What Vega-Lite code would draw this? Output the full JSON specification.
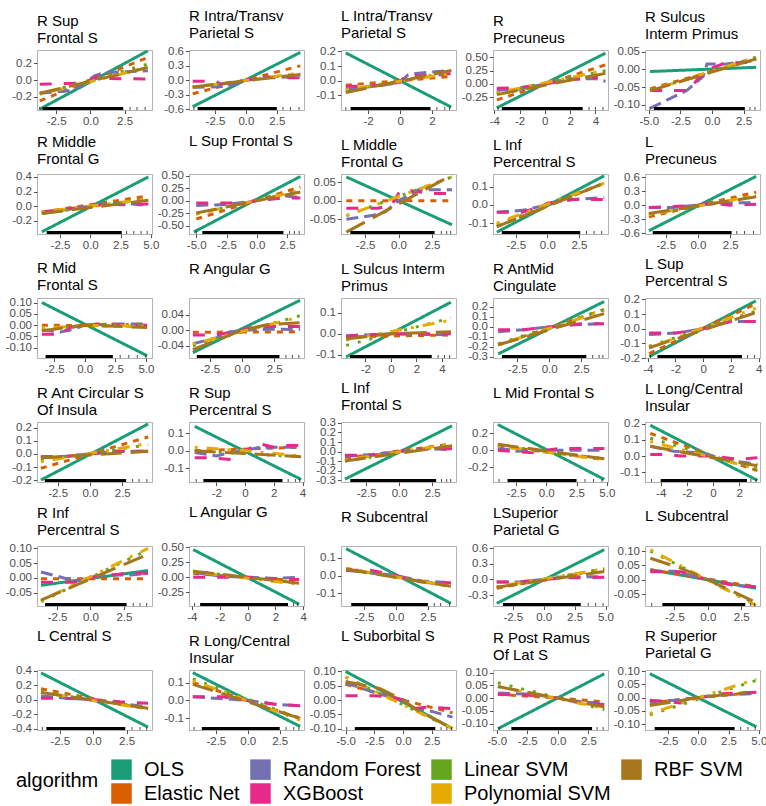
{
"$schema":"https://vega.github.io/schema/vega-lite/v6.json",
"padding":{"left":4,"top":8,"right":0,"bottom":0},
"columns":5,
"spacing":{"row":64,"column":37},
"bounds":"flush",
"resolve":{"scale":{"x":"independent","y":"independent","color":"shared","strokeDash":"shared"}},
"datasets":{
"lines":[
{"p":1,"a":"OLS","x":-3.7,"y":-0.35},{"p":1,"a":"OLS","x":4.2,"y":0.35},
{"p":1,"a":"Elastic Net","x":-3.7,"y":-0.25},{"p":1,"a":"Elastic Net","x":4.2,"y":0.27},
{"p":1,"a":"Random Forest","x":-3.7,"y":-0.16},{"p":1,"a":"Random Forest","x":-1.5,"y":-0.13},{"p":1,"a":"Random Forest","x":-0.5,"y":-0.05},{"p":1,"a":"Random Forest","x":0.3,"y":0.05},{"p":1,"a":"Random Forest","x":1,"y":0.09},{"p":1,"a":"Random Forest","x":4.2,"y":0.11},
{"p":1,"a":"XGBoost","x":-3.7,"y":-0.05},{"p":1,"a":"XGBoost","x":-1.2,"y":-0.04},{"p":1,"a":"XGBoost","x":0,"y":0},{"p":1,"a":"XGBoost","x":0.7,"y":0.06},{"p":1,"a":"XGBoost","x":1.2,"y":0.02},{"p":1,"a":"XGBoost","x":4.2,"y":0.01},
{"p":1,"a":"Linear SVM","x":-3.7,"y":-0.17},{"p":1,"a":"Linear SVM","x":4.2,"y":0.19},
{"p":1,"a":"Polynomial SVM","x":-3.7,"y":-0.17},{"p":1,"a":"Polynomial SVM","x":4.2,"y":0.15},
{"p":1,"a":"RBF SVM","x":-3.7,"y":-0.16},{"p":1,"a":"RBF SVM","x":4.2,"y":0.15},

{"p":2,"a":"OLS","x":-4.3,"y":-0.55},{"p":2,"a":"OLS","x":4.4,"y":0.58},
{"p":2,"a":"Elastic Net","x":-4.3,"y":-0.28},{"p":2,"a":"Elastic Net","x":4.4,"y":0.3},
{"p":2,"a":"Random Forest","x":-4.3,"y":-0.15},{"p":2,"a":"Random Forest","x":-1.5,"y":-0.13},{"p":2,"a":"Random Forest","x":0,"y":0},{"p":2,"a":"Random Forest","x":1.5,"y":0.05},{"p":2,"a":"Random Forest","x":4.4,"y":0.08},
{"p":2,"a":"XGBoost","x":-4.3,"y":-0.02},{"p":2,"a":"XGBoost","x":-2.5,"y":-0.02},{"p":2,"a":"XGBoost","x":-2,"y":-0.08},{"p":2,"a":"XGBoost","x":-1,"y":-0.05},{"p":2,"a":"XGBoost","x":0,"y":0},{"p":2,"a":"XGBoost","x":1.5,"y":0.08},{"p":2,"a":"XGBoost","x":2.5,"y":0.05},{"p":2,"a":"XGBoost","x":4.4,"y":0.05},
{"p":2,"a":"Linear SVM","x":-4.3,"y":-0.14},{"p":2,"a":"Linear SVM","x":4.4,"y":0.14},
{"p":2,"a":"Polynomial SVM","x":-4.3,"y":-0.15},{"p":2,"a":"Polynomial SVM","x":4.4,"y":0.15},
{"p":2,"a":"RBF SVM","x":-4.3,"y":-0.14},{"p":2,"a":"RBF SVM","x":4.4,"y":0.12},

{"p":3,"a":"OLS","x":-3.4,"y":0.19},{"p":3,"a":"OLS","x":3.2,"y":-0.18},
{"p":3,"a":"Elastic Net","x":-3.4,"y":-0.03},{"p":3,"a":"Elastic Net","x":3.2,"y":0.03},
{"p":3,"a":"Random Forest","x":-3.4,"y":-0.06},{"p":3,"a":"Random Forest","x":-1,"y":-0.03},{"p":3,"a":"Random Forest","x":0,"y":-0.01},{"p":3,"a":"Random Forest","x":0.5,"y":0.04},{"p":3,"a":"Random Forest","x":1,"y":0.05},{"p":3,"a":"Random Forest","x":3.2,"y":0.07},
{"p":3,"a":"XGBoost","x":-3.4,"y":-0.04},{"p":3,"a":"XGBoost","x":-1,"y":-0.03},{"p":3,"a":"XGBoost","x":0,"y":-0.01},{"p":3,"a":"XGBoost","x":0.3,"y":0.03},{"p":3,"a":"XGBoost","x":2.5,"y":0.04},{"p":3,"a":"XGBoost","x":3.2,"y":0.05},
{"p":3,"a":"Linear SVM","x":-3.4,"y":-0.07},{"p":3,"a":"Linear SVM","x":3.2,"y":0.06},
{"p":3,"a":"Polynomial SVM","x":-3.4,"y":-0.06},{"p":3,"a":"Polynomial SVM","x":3.2,"y":0.05},
{"p":3,"a":"RBF SVM","x":-3.4,"y":-0.08},{"p":3,"a":"RBF SVM","x":3.2,"y":0.07},

{"p":4,"a":"OLS","x":-3.8,"y":-0.45},{"p":4,"a":"OLS","x":4.8,"y":0.58},
{"p":4,"a":"Elastic Net","x":-3.8,"y":-0.3},{"p":4,"a":"Elastic Net","x":4.8,"y":0.36},
{"p":4,"a":"Random Forest","x":-3.8,"y":-0.12},{"p":4,"a":"Random Forest","x":-2,"y":-0.1},{"p":4,"a":"Random Forest","x":0,"y":0},{"p":4,"a":"Random Forest","x":2,"y":0.1},{"p":4,"a":"Random Forest","x":4,"y":0.1},{"p":4,"a":"Random Forest","x":4.8,"y":0.05},
{"p":4,"a":"XGBoost","x":-3.8,"y":-0.08},{"p":4,"a":"XGBoost","x":-2,"y":-0.07},{"p":4,"a":"XGBoost","x":0,"y":0},{"p":4,"a":"XGBoost","x":2,"y":0.08},{"p":4,"a":"XGBoost","x":4.2,"y":0.12},
{"p":4,"a":"Linear SVM","x":-3.8,"y":-0.17},{"p":4,"a":"Linear SVM","x":4.8,"y":0.25},
{"p":4,"a":"Polynomial SVM","x":-3.8,"y":-0.17},{"p":4,"a":"Polynomial SVM","x":4.8,"y":0.26},
{"p":4,"a":"RBF SVM","x":-3.8,"y":-0.2},{"p":4,"a":"RBF SVM","x":4.8,"y":0.2},

{"p":5,"a":"OLS","x":-4.9,"y":-0.006},{"p":5,"a":"OLS","x":3.5,"y":0.006},
{"p":5,"a":"Elastic Net","x":-4.9,"y":-0.055},{"p":5,"a":"Elastic Net","x":3.5,"y":0.03},
{"p":5,"a":"Random Forest","x":-4.9,"y":-0.11},{"p":5,"a":"Random Forest","x":-2,"y":-0.06},{"p":5,"a":"Random Forest","x":-0.7,"y":-0.02},{"p":5,"a":"Random Forest","x":-0.4,"y":0.015},{"p":5,"a":"Random Forest","x":1,"y":0.015},{"p":5,"a":"Random Forest","x":3.5,"y":0.025},
{"p":5,"a":"XGBoost","x":-4.9,"y":-0.06},{"p":5,"a":"XGBoost","x":-1.8,"y":-0.06},{"p":5,"a":"XGBoost","x":-1.2,"y":-0.03},{"p":5,"a":"XGBoost","x":-0.3,"y":0},{"p":5,"a":"XGBoost","x":1,"y":0.018},{"p":5,"a":"XGBoost","x":3.5,"y":0.02},
{"p":5,"a":"Linear SVM","x":-4.9,"y":-0.06},{"p":5,"a":"Linear SVM","x":3.5,"y":0.035},
{"p":5,"a":"Polynomial SVM","x":-4.9,"y":-0.06},{"p":5,"a":"Polynomial SVM","x":3.5,"y":0.035},
{"p":5,"a":"RBF SVM","x":-4.9,"y":-0.06},{"p":5,"a":"RBF SVM","x":3.5,"y":0.03},

{"p":6,"a":"OLS","x":-4,"y":-0.35},{"p":6,"a":"OLS","x":4.8,"y":0.4},
{"p":6,"a":"Elastic Net","x":-4,"y":-0.08},{"p":6,"a":"Elastic Net","x":4.8,"y":0.14},
{"p":6,"a":"Random Forest","x":-4,"y":-0.1},{"p":6,"a":"Random Forest","x":-1,"y":-0.02},{"p":6,"a":"Random Forest","x":0,"y":0},{"p":6,"a":"Random Forest","x":1,"y":0.03},{"p":6,"a":"Random Forest","x":2.5,"y":0.05},{"p":6,"a":"Random Forest","x":4,"y":0.02},{"p":6,"a":"Random Forest","x":4.8,"y":0.02},
{"p":6,"a":"XGBoost","x":-4,"y":-0.08},{"p":6,"a":"XGBoost","x":0,"y":0},{"p":6,"a":"XGBoost","x":1.5,"y":0.03},{"p":6,"a":"XGBoost","x":2.5,"y":0.02},{"p":6,"a":"XGBoost","x":4.8,"y":0.03},
{"p":6,"a":"Linear SVM","x":-4,"y":-0.1},{"p":6,"a":"Linear SVM","x":4.8,"y":0.1},
{"p":6,"a":"Polynomial SVM","x":-4,"y":-0.08},{"p":6,"a":"Polynomial SVM","x":4.8,"y":0.1},
{"p":6,"a":"RBF SVM","x":-4,"y":-0.1},{"p":6,"a":"RBF SVM","x":4.8,"y":0.08},

{"p":7,"a":"OLS","x":-5.2,"y":-0.63},{"p":7,"a":"OLS","x":3.6,"y":0.48},
{"p":7,"a":"Elastic Net","x":-5,"y":-0.37},{"p":7,"a":"Elastic Net","x":3.6,"y":0.27},
{"p":7,"a":"Random Forest","x":-5,"y":-0.1},{"p":7,"a":"Random Forest","x":-2.5,"y":-0.08},{"p":7,"a":"Random Forest","x":0,"y":0},{"p":7,"a":"Random Forest","x":2,"y":0.1},{"p":7,"a":"Random Forest","x":3.6,"y":0.06},
{"p":7,"a":"XGBoost","x":-5,"y":-0.05},{"p":7,"a":"XGBoost","x":-1,"y":-0.05},{"p":7,"a":"XGBoost","x":0,"y":0},{"p":7,"a":"XGBoost","x":1,"y":0.02},{"p":7,"a":"XGBoost","x":2,"y":0.05},{"p":7,"a":"XGBoost","x":3.6,"y":0.05},
{"p":7,"a":"Linear SVM","x":-5,"y":-0.27},{"p":7,"a":"Linear SVM","x":3.6,"y":0.2},
{"p":7,"a":"Polynomial SVM","x":-5,"y":-0.27},{"p":7,"a":"Polynomial SVM","x":3.6,"y":0.2},
{"p":7,"a":"RBF SVM","x":-5,"y":-0.25},{"p":7,"a":"RBF SVM","x":3.6,"y":0.17},

{"p":8,"a":"OLS","x":-3.9,"y":0.065},{"p":8,"a":"OLS","x":4,"y":-0.065},
{"p":8,"a":"Elastic Net","x":-3.9,"y":0},{"p":8,"a":"Elastic Net","x":4,"y":0},
{"p":8,"a":"Random Forest","x":-3.9,"y":-0.05},{"p":8,"a":"Random Forest","x":-2,"y":-0.04},{"p":8,"a":"Random Forest","x":-1,"y":-0.03},{"p":8,"a":"Random Forest","x":0,"y":0},{"p":8,"a":"Random Forest","x":0.5,"y":0.01},{"p":8,"a":"Random Forest","x":1.5,"y":0.03},{"p":8,"a":"Random Forest","x":4,"y":0.03},
{"p":8,"a":"XGBoost","x":-3.9,"y":-0.02},{"p":8,"a":"XGBoost","x":-1.5,"y":-0.02},{"p":8,"a":"XGBoost","x":-0.5,"y":-0.01},{"p":8,"a":"XGBoost","x":0,"y":0.02},{"p":8,"a":"XGBoost","x":0.3,"y":0.03},{"p":8,"a":"XGBoost","x":2.5,"y":0.02},{"p":8,"a":"XGBoost","x":4,"y":0.02},
{"p":8,"a":"Linear SVM","x":-3.9,"y":-0.04},{"p":8,"a":"Linear SVM","x":4,"y":0.065},
{"p":8,"a":"Polynomial SVM","x":-3.9,"y":-0.04},{"p":8,"a":"Polynomial SVM","x":4,"y":0.065},
{"p":8,"a":"RBF SVM","x":-3.9,"y":-0.085},{"p":8,"a":"RBF SVM","x":4,"y":0.07},

{"p":9,"a":"OLS","x":-4,"y":-0.15},{"p":9,"a":"OLS","x":4.5,"y":0.16},
{"p":9,"a":"Elastic Net","x":-4,"y":-0.12},{"p":9,"a":"Elastic Net","x":4.5,"y":0.12},
{"p":9,"a":"Random Forest","x":-4,"y":-0.04},{"p":9,"a":"Random Forest","x":-2,"y":-0.03},{"p":9,"a":"Random Forest","x":0,"y":0},{"p":9,"a":"Random Forest","x":1,"y":0.02},{"p":9,"a":"Random Forest","x":2,"y":0.03},{"p":9,"a":"Random Forest","x":4.5,"y":0.04},
{"p":9,"a":"XGBoost","x":-4,"y":-0.04},{"p":9,"a":"XGBoost","x":-2,"y":-0.04},{"p":9,"a":"XGBoost","x":-0.5,"y":-0.01},{"p":9,"a":"XGBoost","x":0,"y":0.01},{"p":9,"a":"XGBoost","x":2,"y":0.03},{"p":9,"a":"XGBoost","x":4.5,"y":0.03},
{"p":9,"a":"Linear SVM","x":-4,"y":-0.11},{"p":9,"a":"Linear SVM","x":4.5,"y":0.12},
{"p":9,"a":"Polynomial SVM","x":-4,"y":-0.1},{"p":9,"a":"Polynomial SVM","x":4.5,"y":0.12},
{"p":9,"a":"RBF SVM","x":-4,"y":-0.12},{"p":9,"a":"RBF SVM","x":4.5,"y":0.12},

{"p":10,"a":"OLS","x":-3.8,"y":-0.55},{"p":10,"a":"OLS","x":4.5,"y":0.62},
{"p":10,"a":"Elastic Net","x":-3.8,"y":-0.25},{"p":10,"a":"Elastic Net","x":4.5,"y":0.28},
{"p":10,"a":"Random Forest","x":-3.8,"y":-0.05},{"p":10,"a":"Random Forest","x":-2,"y":-0.05},{"p":10,"a":"Random Forest","x":0,"y":0},{"p":10,"a":"Random Forest","x":2,"y":0.05},{"p":10,"a":"Random Forest","x":4.5,"y":0.05},
{"p":10,"a":"XGBoost","x":-3.8,"y":-0.05},{"p":10,"a":"XGBoost","x":-1,"y":-0.02},{"p":10,"a":"XGBoost","x":0,"y":0},{"p":10,"a":"XGBoost","x":1,"y":0.05},{"p":10,"a":"XGBoost","x":2.5,"y":0},{"p":10,"a":"XGBoost","x":4.5,"y":0.02},
{"p":10,"a":"Linear SVM","x":-3.8,"y":-0.2},{"p":10,"a":"Linear SVM","x":4.5,"y":0.2},
{"p":10,"a":"Polynomial SVM","x":-3.8,"y":-0.2},{"p":10,"a":"Polynomial SVM","x":4.5,"y":0.2},
{"p":10,"a":"RBF SVM","x":-3.8,"y":-0.18},{"p":10,"a":"RBF SVM","x":4.5,"y":0.18},

{"p":11,"a":"OLS","x":-3.5,"y":0.1},{"p":11,"a":"OLS","x":5.1,"y":-0.135},
{"p":11,"a":"Elastic Net","x":-3.5,"y":0},{"p":11,"a":"Elastic Net","x":5.1,"y":-0.005},
{"p":11,"a":"Random Forest","x":-3.5,"y":-0.02},{"p":11,"a":"Random Forest","x":-2,"y":-0.03},{"p":11,"a":"Random Forest","x":-1,"y":-0.02},{"p":11,"a":"Random Forest","x":0,"y":0},{"p":11,"a":"Random Forest","x":2,"y":0.005},{"p":11,"a":"Random Forest","x":5.1,"y":0.005},
{"p":11,"a":"XGBoost","x":-3.5,"y":-0.04},{"p":11,"a":"XGBoost","x":-2,"y":-0.04},{"p":11,"a":"XGBoost","x":-1.2,"y":-0.01},{"p":11,"a":"XGBoost","x":0,"y":0},{"p":11,"a":"XGBoost","x":1,"y":0.005},{"p":11,"a":"XGBoost","x":5.1,"y":0},
{"p":11,"a":"Linear SVM","x":-3.5,"y":-0.02},{"p":11,"a":"Linear SVM","x":0,"y":0},{"p":11,"a":"Linear SVM","x":5.1,"y":0.005},
{"p":11,"a":"Polynomial SVM","x":-3.5,"y":-0.015},{"p":11,"a":"Polynomial SVM","x":0,"y":0},{"p":11,"a":"Polynomial SVM","x":5.1,"y":-0.005},
{"p":11,"a":"RBF SVM","x":-3.5,"y":-0.025},{"p":11,"a":"RBF SVM","x":0,"y":0},{"p":11,"a":"RBF SVM","x":2.5,"y":-0.005},{"p":11,"a":"RBF SVM","x":5.1,"y":-0.01},

{"p":12,"a":"OLS","x":-3.8,"y":-0.058},{"p":12,"a":"OLS","x":4.5,"y":0.078},
{"p":12,"a":"Elastic Net","x":-3.8,"y":-0.005},{"p":12,"a":"Elastic Net","x":4.5,"y":-0.004},
{"p":12,"a":"Random Forest","x":-3.8,"y":-0.035},{"p":12,"a":"Random Forest","x":-2,"y":-0.02},{"p":12,"a":"Random Forest","x":-1,"y":-0.005},{"p":12,"a":"Random Forest","x":0,"y":0},{"p":12,"a":"Random Forest","x":2,"y":0.003},{"p":12,"a":"Random Forest","x":4.5,"y":0.002},
{"p":12,"a":"XGBoost","x":-3.8,"y":-0.012},{"p":12,"a":"XGBoost","x":-2,"y":-0.012},{"p":12,"a":"XGBoost","x":0,"y":0},{"p":12,"a":"XGBoost","x":1,"y":0.01},{"p":12,"a":"XGBoost","x":3,"y":0.01},{"p":12,"a":"XGBoost","x":4.5,"y":0.01},
{"p":12,"a":"Linear SVM","x":-3.8,"y":-0.04},{"p":12,"a":"Linear SVM","x":4.5,"y":0.038},
{"p":12,"a":"Polynomial SVM","x":-3.8,"y":-0.035},{"p":12,"a":"Polynomial SVM","x":4.5,"y":0.035},
{"p":12,"a":"RBF SVM","x":-3.8,"y":-0.05},{"p":12,"a":"RBF SVM","x":0,"y":0},{"p":12,"a":"RBF SVM","x":2,"y":0.015},{"p":12,"a":"RBF SVM","x":4.5,"y":0.02},

{"p":13,"a":"OLS","x":-3.5,"y":-0.11},{"p":13,"a":"OLS","x":4.7,"y":0.15},
{"p":13,"a":"Elastic Net","x":-3.5,"y":-0.015},{"p":13,"a":"Elastic Net","x":4.7,"y":-0.005},
{"p":13,"a":"Random Forest","x":-3.5,"y":-0.01},{"p":13,"a":"Random Forest","x":0,"y":0},{"p":13,"a":"Random Forest","x":4.7,"y":-0.005},
{"p":13,"a":"XGBoost","x":-3.5,"y":-0.01},{"p":13,"a":"XGBoost","x":0,"y":0},{"p":13,"a":"XGBoost","x":2,"y":0},{"p":13,"a":"XGBoost","x":4.7,"y":0},
{"p":13,"a":"Linear SVM","x":-3.5,"y":-0.055},{"p":13,"a":"Linear SVM","x":4.7,"y":0.075},
{"p":13,"a":"Polynomial SVM","x":-3.5,"y":-0.03},{"p":13,"a":"Polynomial SVM","x":4.7,"y":0.065},
{"p":13,"a":"RBF SVM","x":-3.5,"y":-0.025},{"p":13,"a":"RBF SVM","x":0,"y":0},{"p":13,"a":"RBF SVM","x":4.7,"y":0.01},

{"p":14,"a":"OLS","x":-4,"y":-0.27},{"p":14,"a":"OLS","x":4.3,"y":0.25},
{"p":14,"a":"Elastic Net","x":-4,"y":-0.18},{"p":14,"a":"Elastic Net","x":4.3,"y":0.17},
{"p":14,"a":"Random Forest","x":-4,"y":-0.05},{"p":14,"a":"Random Forest","x":-2,"y":-0.03},{"p":14,"a":"Random Forest","x":0,"y":0},{"p":14,"a":"Random Forest","x":2,"y":0.02},{"p":14,"a":"Random Forest","x":4.3,"y":0.03},
{"p":14,"a":"XGBoost","x":-4,"y":-0.03},{"p":14,"a":"XGBoost","x":-2,"y":-0.03},{"p":14,"a":"XGBoost","x":0,"y":0},{"p":14,"a":"XGBoost","x":1,"y":0.01},{"p":14,"a":"XGBoost","x":2.5,"y":0.03},{"p":14,"a":"XGBoost","x":4.3,"y":0.03},
{"p":14,"a":"Linear SVM","x":-4,"y":-0.17},{"p":14,"a":"Linear SVM","x":4.3,"y":0.17},
{"p":14,"a":"Polynomial SVM","x":-4,"y":-0.18},{"p":14,"a":"Polynomial SVM","x":4.3,"y":0.16},
{"p":14,"a":"RBF SVM","x":-4,"y":-0.18},{"p":14,"a":"RBF SVM","x":4.3,"y":0.13},

{"p":15,"a":"OLS","x":-3.9,"y":-0.19},{"p":15,"a":"OLS","x":3.8,"y":0.19},
{"p":15,"a":"Elastic Net","x":-3.9,"y":-0.17},{"p":15,"a":"Elastic Net","x":3.8,"y":0.17},
{"p":15,"a":"Random Forest","x":-3.9,"y":-0.04},{"p":15,"a":"Random Forest","x":-2,"y":-0.03},{"p":15,"a":"Random Forest","x":0,"y":0},{"p":15,"a":"Random Forest","x":2,"y":0.05},{"p":15,"a":"Random Forest","x":3.8,"y":0.05},
{"p":15,"a":"XGBoost","x":-3.9,"y":-0.03},{"p":15,"a":"XGBoost","x":-2,"y":-0.03},{"p":15,"a":"XGBoost","x":0,"y":0},{"p":15,"a":"XGBoost","x":1,"y":0.03},{"p":15,"a":"XGBoost","x":2,"y":0.05},{"p":15,"a":"XGBoost","x":3.8,"y":0.05},
{"p":15,"a":"Linear SVM","x":-3.9,"y":-0.12},{"p":15,"a":"Linear SVM","x":3.8,"y":0.12},
{"p":15,"a":"Polynomial SVM","x":-3.9,"y":-0.13},{"p":15,"a":"Polynomial SVM","x":3.8,"y":0.14},
{"p":15,"a":"RBF SVM","x":-3.9,"y":-0.13},{"p":15,"a":"RBF SVM","x":3.8,"y":0.11},

{"p":16,"a":"OLS","x":-3.8,"y":-0.2},{"p":16,"a":"OLS","x":4.5,"y":0.23},
{"p":16,"a":"Elastic Net","x":-3.8,"y":-0.11},{"p":16,"a":"Elastic Net","x":4.5,"y":0.13},
{"p":16,"a":"Random Forest","x":-3.8,"y":-0.02},{"p":16,"a":"Random Forest","x":-2,"y":-0.02},{"p":16,"a":"Random Forest","x":0,"y":0},{"p":16,"a":"Random Forest","x":2,"y":0.02},{"p":16,"a":"Random Forest","x":4.5,"y":0.02},
{"p":16,"a":"XGBoost","x":-3.8,"y":-0.03},{"p":16,"a":"XGBoost","x":-2,"y":-0.02},{"p":16,"a":"XGBoost","x":0,"y":0},{"p":16,"a":"XGBoost","x":2,"y":0.02},{"p":16,"a":"XGBoost","x":4.5,"y":0.02},
{"p":16,"a":"Linear SVM","x":-3.8,"y":-0.05},{"p":16,"a":"Linear SVM","x":4.5,"y":0.07},
{"p":16,"a":"Polynomial SVM","x":-3.8,"y":-0.06},{"p":16,"a":"Polynomial SVM","x":4.5,"y":0.08},
{"p":16,"a":"RBF SVM","x":-3.8,"y":-0.03},{"p":16,"a":"RBF SVM","x":4.5,"y":0.02},

{"p":17,"a":"OLS","x":-3.5,"y":0.14},{"p":17,"a":"OLS","x":3.9,"y":-0.165},
{"p":17,"a":"Elastic Net","x":-3.5,"y":0},{"p":17,"a":"Elastic Net","x":3.9,"y":0.02},
{"p":17,"a":"Random Forest","x":-3.5,"y":-0.01},{"p":17,"a":"Random Forest","x":-2,"y":-0.03},{"p":17,"a":"Random Forest","x":-1,"y":-0.01},{"p":17,"a":"Random Forest","x":0,"y":0},{"p":17,"a":"Random Forest","x":1,"y":0.02},{"p":17,"a":"Random Forest","x":3.9,"y":0.02},
{"p":17,"a":"XGBoost","x":-3.5,"y":-0.04},{"p":17,"a":"XGBoost","x":-2.5,"y":-0.04},{"p":17,"a":"XGBoost","x":-1,"y":-0.05},{"p":17,"a":"XGBoost","x":0,"y":0},{"p":17,"a":"XGBoost","x":1,"y":0.04},{"p":17,"a":"XGBoost","x":2,"y":0.02},{"p":17,"a":"XGBoost","x":3,"y":0.03},{"p":17,"a":"XGBoost","x":3.9,"y":0.03},
{"p":17,"a":"Linear SVM","x":-3.5,"y":0},{"p":17,"a":"Linear SVM","x":3.9,"y":-0.035},
{"p":17,"a":"Polynomial SVM","x":-3.5,"y":0.02},{"p":17,"a":"Polynomial SVM","x":0,"y":0},{"p":17,"a":"Polynomial SVM","x":3.9,"y":-0.03},
{"p":17,"a":"RBF SVM","x":-3.5,"y":0},{"p":17,"a":"RBF SVM","x":3.9,"y":-0.035},

{"p":18,"a":"OLS","x":-4.1,"y":-0.29},{"p":18,"a":"OLS","x":4,"y":0.27},
{"p":18,"a":"Elastic Net","x":-4.1,"y":-0.07},{"p":18,"a":"Elastic Net","x":4,"y":0.08},
{"p":18,"a":"Random Forest","x":-4.1,"y":-0.05},{"p":18,"a":"Random Forest","x":-2,"y":-0.03},{"p":18,"a":"Random Forest","x":0,"y":0},{"p":18,"a":"Random Forest","x":2,"y":0.03},{"p":18,"a":"Random Forest","x":4,"y":0.02},
{"p":18,"a":"XGBoost","x":-4.1,"y":-0.04},{"p":18,"a":"XGBoost","x":-2,"y":-0.04},{"p":18,"a":"XGBoost","x":0,"y":0},{"p":18,"a":"XGBoost","x":1,"y":0.02},{"p":18,"a":"XGBoost","x":3,"y":0.03},{"p":18,"a":"XGBoost","x":4,"y":0.03},
{"p":18,"a":"Linear SVM","x":-4.1,"y":-0.1},{"p":18,"a":"Linear SVM","x":4,"y":0.07},
{"p":18,"a":"Polynomial SVM","x":-4.1,"y":-0.09},{"p":18,"a":"Polynomial SVM","x":4,"y":0.08},
{"p":18,"a":"RBF SVM","x":-4.1,"y":-0.1},{"p":18,"a":"RBF SVM","x":4,"y":0.06},

{"p":19,"a":"OLS","x":-4,"y":0.3},{"p":19,"a":"OLS","x":4.8,"y":-0.34},
{"p":19,"a":"Elastic Net","x":-4,"y":0.05},{"p":19,"a":"Elastic Net","x":4.8,"y":-0.1},
{"p":19,"a":"Random Forest","x":-4,"y":0.03},{"p":19,"a":"Random Forest","x":-2.5,"y":-0.01},{"p":19,"a":"Random Forest","x":0,"y":0},{"p":19,"a":"Random Forest","x":2,"y":0},{"p":19,"a":"Random Forest","x":4.8,"y":0},
{"p":19,"a":"XGBoost","x":-4,"y":0},{"p":19,"a":"XGBoost","x":-2,"y":-0.02},{"p":19,"a":"XGBoost","x":-1,"y":-0.03},{"p":19,"a":"XGBoost","x":0,"y":0},{"p":19,"a":"XGBoost","x":1,"y":0.02},{"p":19,"a":"XGBoost","x":4.8,"y":0.02},
{"p":19,"a":"Linear SVM","x":-4,"y":0.06},{"p":19,"a":"Linear SVM","x":4.8,"y":-0.11},
{"p":19,"a":"Polynomial SVM","x":-4,"y":0.05},{"p":19,"a":"Polynomial SVM","x":4.8,"y":-0.11},
{"p":19,"a":"RBF SVM","x":-4,"y":0.07},{"p":19,"a":"RBF SVM","x":4.8,"y":-0.1},

{"p":20,"a":"OLS","x":-4.8,"y":0.19},{"p":20,"a":"OLS","x":3.4,"y":-0.15},
{"p":20,"a":"Elastic Net","x":-4.8,"y":0.14},{"p":20,"a":"Elastic Net","x":0,"y":0},{"p":20,"a":"Elastic Net","x":3.4,"y":-0.09},
{"p":20,"a":"Random Forest","x":-4.8,"y":0.06},{"p":20,"a":"Random Forest","x":-3,"y":0.03},{"p":20,"a":"Random Forest","x":-1,"y":0.02},{"p":20,"a":"Random Forest","x":0,"y":0},{"p":20,"a":"Random Forest","x":1.5,"y":-0.03},{"p":20,"a":"Random Forest","x":3.4,"y":-0.05},
{"p":20,"a":"XGBoost","x":-4.8,"y":0.01},{"p":20,"a":"XGBoost","x":-3.5,"y":0.01},{"p":20,"a":"XGBoost","x":-2.5,"y":0},{"p":20,"a":"XGBoost","x":0,"y":0},{"p":20,"a":"XGBoost","x":2,"y":-0.02},{"p":20,"a":"XGBoost","x":3.4,"y":-0.01},
{"p":20,"a":"Linear SVM","x":-4.8,"y":0.11},{"p":20,"a":"Linear SVM","x":3.4,"y":-0.08},
{"p":20,"a":"Polynomial SVM","x":-4.8,"y":0.09},{"p":20,"a":"Polynomial SVM","x":3.4,"y":-0.08},
{"p":20,"a":"RBF SVM","x":-4.8,"y":0.06},{"p":20,"a":"RBF SVM","x":3.4,"y":-0.06},

{"p":21,"a":"OLS","x":-3.7,"y":-0.025},{"p":21,"a":"OLS","x":4.3,"y":0.025},
{"p":21,"a":"Elastic Net","x":-3.7,"y":-0.003},{"p":21,"a":"Elastic Net","x":4.3,"y":-0.003},
{"p":21,"a":"Random Forest","x":-3.7,"y":0.02},{"p":21,"a":"Random Forest","x":-2,"y":0},{"p":21,"a":"Random Forest","x":-1,"y":-0.01},{"p":21,"a":"Random Forest","x":0,"y":0},{"p":21,"a":"Random Forest","x":1,"y":0.01},{"p":21,"a":"Random Forest","x":3,"y":0.01},{"p":21,"a":"Random Forest","x":4.3,"y":0.015},
{"p":21,"a":"XGBoost","x":-3.7,"y":-0.015},{"p":21,"a":"XGBoost","x":-1.2,"y":-0.015},{"p":21,"a":"XGBoost","x":0,"y":0},{"p":21,"a":"XGBoost","x":0.5,"y":0.008},{"p":21,"a":"XGBoost","x":2,"y":0.012},{"p":21,"a":"XGBoost","x":3,"y":0.018},{"p":21,"a":"XGBoost","x":4.3,"y":0.015},
{"p":21,"a":"Linear SVM","x":-3.7,"y":-0.08},{"p":21,"a":"Linear SVM","x":4.3,"y":0.095},
{"p":21,"a":"Polynomial SVM","x":-3.7,"y":-0.078},{"p":21,"a":"Polynomial SVM","x":4.3,"y":0.1},
{"p":21,"a":"RBF SVM","x":-3.7,"y":-0.075},{"p":21,"a":"RBF SVM","x":4.3,"y":0.08},

{"p":22,"a":"OLS","x":-3.9,"y":0.46},{"p":22,"a":"OLS","x":3.7,"y":-0.45},
{"p":22,"a":"Elastic Net","x":-3.9,"y":0.06},{"p":22,"a":"Elastic Net","x":3.7,"y":-0.06},
{"p":22,"a":"Random Forest","x":-3.9,"y":0.08},{"p":22,"a":"Random Forest","x":-2,"y":0.02},{"p":22,"a":"Random Forest","x":0,"y":0},{"p":22,"a":"Random Forest","x":2,"y":-0.02},{"p":22,"a":"Random Forest","x":3.7,"y":0},
{"p":22,"a":"XGBoost","x":-3.9,"y":0},{"p":22,"a":"XGBoost","x":-2,"y":0},{"p":22,"a":"XGBoost","x":0,"y":0},{"p":22,"a":"XGBoost","x":2,"y":-0.03},{"p":22,"a":"XGBoost","x":3.7,"y":-0.04},
{"p":22,"a":"Linear SVM","x":-3.9,"y":0.1},{"p":22,"a":"Linear SVM","x":3.7,"y":-0.1},
{"p":22,"a":"Polynomial SVM","x":-3.9,"y":0.09},{"p":22,"a":"Polynomial SVM","x":3.7,"y":-0.12},
{"p":22,"a":"RBF SVM","x":-3.9,"y":0.1},{"p":22,"a":"RBF SVM","x":3.7,"y":-0.1},

{"p":23,"a":"OLS","x":-3.9,"y":0.15},{"p":23,"a":"OLS","x":4.3,"y":-0.155},
{"p":23,"a":"Elastic Net","x":-3.9,"y":0.04},{"p":23,"a":"Elastic Net","x":4.3,"y":-0.06},
{"p":23,"a":"Random Forest","x":-3.9,"y":0.03},{"p":23,"a":"Random Forest","x":0,"y":0},{"p":23,"a":"Random Forest","x":2,"y":-0.03},{"p":23,"a":"Random Forest","x":4.3,"y":-0.04},
{"p":23,"a":"XGBoost","x":-3.9,"y":0.03},{"p":23,"a":"XGBoost","x":-2,"y":0.03},{"p":23,"a":"XGBoost","x":0,"y":0},{"p":23,"a":"XGBoost","x":1.5,"y":-0.03},{"p":23,"a":"XGBoost","x":2.5,"y":-0.04},{"p":23,"a":"XGBoost","x":4.3,"y":-0.04},
{"p":23,"a":"Linear SVM","x":-3.9,"y":0.04},{"p":23,"a":"Linear SVM","x":4.3,"y":-0.06},
{"p":23,"a":"Polynomial SVM","x":-3.9,"y":0.04},{"p":23,"a":"Polynomial SVM","x":4.3,"y":-0.06},
{"p":23,"a":"RBF SVM","x":-3.9,"y":0.035},{"p":23,"a":"RBF SVM","x":4.3,"y":-0.06},

{"p":24,"a":"OLS","x":-3.8,"y":-0.46},{"p":24,"a":"OLS","x":4.9,"y":0.57},
{"p":24,"a":"Elastic Net","x":-3.8,"y":-0.17},{"p":24,"a":"Elastic Net","x":4.9,"y":0.2},
{"p":24,"a":"Random Forest","x":-3.8,"y":-0.05},{"p":24,"a":"Random Forest","x":-2,"y":-0.05},{"p":24,"a":"Random Forest","x":0,"y":0},{"p":24,"a":"Random Forest","x":2,"y":0.05},{"p":24,"a":"Random Forest","x":4.9,"y":0.05},
{"p":24,"a":"XGBoost","x":-3.8,"y":-0.05},{"p":24,"a":"XGBoost","x":-2,"y":-0.05},{"p":24,"a":"XGBoost","x":0,"y":0},{"p":24,"a":"XGBoost","x":2,"y":0.03},{"p":24,"a":"XGBoost","x":4.9,"y":0.04},
{"p":24,"a":"Linear SVM","x":-3.8,"y":-0.15},{"p":24,"a":"Linear SVM","x":4.9,"y":0.2},
{"p":24,"a":"Polynomial SVM","x":-3.8,"y":-0.14},{"p":24,"a":"Polynomial SVM","x":4.9,"y":0.2},
{"p":24,"a":"RBF SVM","x":-3.8,"y":-0.15},{"p":24,"a":"RBF SVM","x":4.9,"y":0.15},

{"p":25,"a":"OLS","x":-4.3,"y":0.035},{"p":25,"a":"OLS","x":3.6,"y":-0.03},
{"p":25,"a":"Elastic Net","x":-4.3,"y":0.035},{"p":25,"a":"Elastic Net","x":3.6,"y":-0.025},
{"p":25,"a":"Random Forest","x":-4.3,"y":0.03},{"p":25,"a":"Random Forest","x":-2.5,"y":0.03},{"p":25,"a":"Random Forest","x":0,"y":0},{"p":25,"a":"Random Forest","x":2,"y":-0.02},{"p":25,"a":"Random Forest","x":3.6,"y":-0.025},
{"p":25,"a":"XGBoost","x":-4.3,"y":0.028},{"p":25,"a":"XGBoost","x":-2,"y":0.028},{"p":25,"a":"XGBoost","x":0,"y":0},{"p":25,"a":"XGBoost","x":2,"y":-0.02},{"p":25,"a":"XGBoost","x":3.6,"y":-0.025},
{"p":25,"a":"Linear SVM","x":-4.3,"y":0.1},{"p":25,"a":"Linear SVM","x":3.6,"y":-0.085},
{"p":25,"a":"Polynomial SVM","x":-4.3,"y":0.105},{"p":25,"a":"Polynomial SVM","x":3.6,"y":-0.09},
{"p":25,"a":"RBF SVM","x":-4.3,"y":0.075},{"p":25,"a":"RBF SVM","x":-2,"y":0.04},{"p":25,"a":"RBF SVM","x":0,"y":0},{"p":25,"a":"RBF SVM","x":3.6,"y":-0.08},

{"p":26,"a":"OLS","x":-3.9,"y":0.37},{"p":26,"a":"OLS","x":4.1,"y":-0.38},
{"p":26,"a":"Elastic Net","x":-3.9,"y":0.15},{"p":26,"a":"Elastic Net","x":4.1,"y":-0.13},
{"p":26,"a":"Random Forest","x":-3.9,"y":0.05},{"p":26,"a":"Random Forest","x":-2,"y":0.02},{"p":26,"a":"Random Forest","x":0,"y":0},{"p":26,"a":"Random Forest","x":2,"y":-0.05},{"p":26,"a":"Random Forest","x":4.1,"y":-0.1},
{"p":26,"a":"XGBoost","x":-3.9,"y":0.02},{"p":26,"a":"XGBoost","x":-2,"y":0.02},{"p":26,"a":"XGBoost","x":0,"y":0},{"p":26,"a":"XGBoost","x":2,"y":-0.03},{"p":26,"a":"XGBoost","x":4.1,"y":-0.05},
{"p":26,"a":"Linear SVM","x":-3.9,"y":0.12},{"p":26,"a":"Linear SVM","x":4.1,"y":-0.12},
{"p":26,"a":"Polynomial SVM","x":-3.9,"y":0.1},{"p":26,"a":"Polynomial SVM","x":4.1,"y":-0.13},
{"p":26,"a":"RBF SVM","x":-3.9,"y":0.1},{"p":26,"a":"RBF SVM","x":4.1,"y":-0.12},

{"p":27,"a":"OLS","x":-4.3,"y":0.155},{"p":27,"a":"OLS","x":4.1,"y":-0.145},
{"p":27,"a":"Elastic Net","x":-4.3,"y":0.1},{"p":27,"a":"Elastic Net","x":4.1,"y":-0.1},
{"p":27,"a":"Random Forest","x":-4.3,"y":0.02},{"p":27,"a":"Random Forest","x":-2,"y":0.01},{"p":27,"a":"Random Forest","x":0,"y":0},{"p":27,"a":"Random Forest","x":2,"y":-0.02},{"p":27,"a":"Random Forest","x":4.1,"y":-0.03},
{"p":27,"a":"XGBoost","x":-4.3,"y":0.02},{"p":27,"a":"XGBoost","x":-2,"y":0.02},{"p":27,"a":"XGBoost","x":0,"y":0},{"p":27,"a":"XGBoost","x":2,"y":-0.02},{"p":27,"a":"XGBoost","x":4.1,"y":-0.03},
{"p":27,"a":"Linear SVM","x":-4.3,"y":0.12},{"p":27,"a":"Linear SVM","x":4.1,"y":-0.1},
{"p":27,"a":"Polynomial SVM","x":-4.3,"y":0.11},{"p":27,"a":"Polynomial SVM","x":4.1,"y":-0.11},
{"p":27,"a":"RBF SVM","x":-4.3,"y":0.09},{"p":27,"a":"RBF SVM","x":4.1,"y":-0.1},

{"p":28,"a":"OLS","x":-5,"y":0.1},{"p":28,"a":"OLS","x":4.3,"y":-0.1},
{"p":28,"a":"Elastic Net","x":-5,"y":0.055},{"p":28,"a":"Elastic Net","x":0,"y":0},{"p":28,"a":"Elastic Net","x":4.3,"y":-0.045},
{"p":28,"a":"Random Forest","x":-5,"y":0.06},{"p":28,"a":"Random Forest","x":-2,"y":0.02},{"p":28,"a":"Random Forest","x":0,"y":0},{"p":28,"a":"Random Forest","x":0.5,"y":-0.01},{"p":28,"a":"Random Forest","x":1,"y":-0.03},{"p":28,"a":"Random Forest","x":2.5,"y":-0.04},{"p":28,"a":"Random Forest","x":4.3,"y":-0.06},
{"p":28,"a":"XGBoost","x":-5,"y":0.015},{"p":28,"a":"XGBoost","x":-2.5,"y":0.015},{"p":28,"a":"XGBoost","x":-1,"y":0.01},{"p":28,"a":"XGBoost","x":0,"y":0},{"p":28,"a":"XGBoost","x":1,"y":-0.03},{"p":28,"a":"XGBoost","x":2,"y":-0.025},{"p":28,"a":"XGBoost","x":4.3,"y":-0.03},
{"p":28,"a":"Linear SVM","x":-5,"y":0.08},{"p":28,"a":"Linear SVM","x":4.3,"y":-0.1},
{"p":28,"a":"Polynomial SVM","x":-5,"y":0.08},{"p":28,"a":"Polynomial SVM","x":4.3,"y":-0.1},
{"p":28,"a":"RBF SVM","x":-5,"y":0.065},{"p":28,"a":"RBF SVM","x":-2,"y":0.04},{"p":28,"a":"RBF SVM","x":0,"y":0},{"p":28,"a":"RBF SVM","x":1,"y":-0.03},{"p":28,"a":"RBF SVM","x":4.3,"y":-0.1},

{"p":29,"a":"OLS","x":-4.9,"y":-0.12},{"p":29,"a":"OLS","x":3.8,"y":0.095},
{"p":29,"a":"Elastic Net","x":-4.9,"y":0.015},{"p":29,"a":"Elastic Net","x":0,"y":0},{"p":29,"a":"Elastic Net","x":3.8,"y":-0.015},
{"p":29,"a":"Random Forest","x":-4.9,"y":0.02},{"p":29,"a":"Random Forest","x":-2,"y":0.015},{"p":29,"a":"Random Forest","x":0,"y":0},{"p":29,"a":"Random Forest","x":2,"y":-0.015},{"p":29,"a":"Random Forest","x":3.8,"y":-0.02},
{"p":29,"a":"XGBoost","x":-4.9,"y":0.015},{"p":29,"a":"XGBoost","x":-2,"y":0.01},{"p":29,"a":"XGBoost","x":0,"y":0},{"p":29,"a":"XGBoost","x":2,"y":-0.02},{"p":29,"a":"XGBoost","x":3.8,"y":-0.025},
{"p":29,"a":"Linear SVM","x":-4.9,"y":0.06},{"p":29,"a":"Linear SVM","x":3.8,"y":-0.045},
{"p":29,"a":"Polynomial SVM","x":-4.9,"y":0.045},{"p":29,"a":"Polynomial SVM","x":3.8,"y":-0.04},
{"p":29,"a":"RBF SVM","x":-4.9,"y":0.045},{"p":29,"a":"RBF SVM","x":3.8,"y":-0.035},

{"p":30,"a":"OLS","x":-4,"y":0.09},{"p":30,"a":"OLS","x":4.8,"y":-0.11},
{"p":30,"a":"Elastic Net","x":-4,"y":-0.02},{"p":30,"a":"Elastic Net","x":0,"y":0},{"p":30,"a":"Elastic Net","x":4.8,"y":0.02},
{"p":30,"a":"Random Forest","x":-4,"y":-0.015},{"p":30,"a":"Random Forest","x":-2,"y":-0.01},{"p":30,"a":"Random Forest","x":0,"y":0},{"p":30,"a":"Random Forest","x":2,"y":0.01},{"p":30,"a":"Random Forest","x":4.8,"y":0.015},
{"p":30,"a":"XGBoost","x":-4,"y":-0.01},{"p":30,"a":"XGBoost","x":-1.5,"y":-0.02},{"p":30,"a":"XGBoost","x":0,"y":0},{"p":30,"a":"XGBoost","x":2,"y":0.015},{"p":30,"a":"XGBoost","x":4.8,"y":0.02},
{"p":30,"a":"Linear SVM","x":-4,"y":-0.065},{"p":30,"a":"Linear SVM","x":4.8,"y":0.065},
{"p":30,"a":"Polynomial SVM","x":-4,"y":-0.06},{"p":30,"a":"Polynomial SVM","x":4.8,"y":0.07},
{"p":30,"a":"RBF SVM","x":-4,"y":-0.03},{"p":30,"a":"RBF SVM","x":0,"y":0},{"p":30,"a":"RBF SVM","x":4,"y":0.02}
],
"rug":[
{"p":1,"lo":-3.5,"hi":2.4},{"p":2,"lo":-3.9,"hi":2.5},{"p":3,"lo":-3.1,"hi":1.9},{"p":4,"lo":-3.4,"hi":3.0},{"p":5,"lo":-4.6,"hi":2.6},
{"p":6,"lo":-3.6,"hi":2.6},{"p":7,"lo":-4.5,"hi":2.2},{"p":8,"lo":-3.6,"hi":2.7},{"p":9,"lo":-3.6,"hi":2.6},{"p":10,"lo":-3.5,"hi":2.6},
{"p":11,"lo":-3.2,"hi":2.3},{"p":12,"lo":-3.5,"hi":2.9},{"p":13,"lo":-3.2,"hi":3.2},{"p":14,"lo":-3.7,"hi":2.9},{"p":15,"lo":-3.3,"hi":2.8},
{"p":16,"lo":-3.5,"hi":2.8},{"p":17,"lo":-2.9,"hi":2.6},{"p":18,"lo":-3.7,"hi":2.8},{"p":19,"lo":-3.2,"hi":2.5},{"p":20,"lo":-4.0,"hi":2.6},
{"p":21,"lo":-3.4,"hi":2.7},{"p":22,"lo":-3.4,"hi":2.9},{"p":23,"lo":-3.5,"hi":2.5},{"p":24,"lo":-3.3,"hi":3.0},{"p":25,"lo":-3.4,"hi":2.8},
{"p":26,"lo":-3.5,"hi":2.4},{"p":27,"lo":-3.6,"hi":2.5},{"p":28,"lo":-4.2,"hi":2.8},{"p":29,"lo":-3.8,"hi":2.8},{"p":30,"lo":-3.6,"hi":3.0}
],
"ticks":[
{"p":1,"x":-3.7},{"p":1,"x":2.9},{"p":1,"x":3.4},{"p":1,"x":4.0},
{"p":2,"x":-4.2},{"p":2,"x":3.0},{"p":2,"x":3.6},{"p":2,"x":4.3},
{"p":3,"x":-3.4},{"p":3,"x":2.3},{"p":3,"x":2.8},{"p":3,"x":3.1},
{"p":4,"x":-3.7},{"p":4,"x":3.5},{"p":4,"x":4.0},{"p":4,"x":4.6},
{"p":5,"x":-4.9},{"p":5,"x":3.0},{"p":5,"x":3.4},
{"p":6,"x":3.0},{"p":6,"x":3.6},{"p":6,"x":4.2},{"p":6,"x":4.7},
{"p":7,"x":-5.0},{"p":7,"x":2.7},{"p":7,"x":3.1},{"p":7,"x":3.5},
{"p":8,"x":3.2},{"p":8,"x":3.6},{"p":8,"x":3.9},
{"p":9,"x":3.1},{"p":9,"x":3.7},{"p":9,"x":4.3},
{"p":10,"x":3.0},{"p":10,"x":3.6},{"p":10,"x":4.3},
{"p":11,"x":2.9},{"p":11,"x":3.6},{"p":11,"x":4.3},{"p":11,"x":5.0},
{"p":12,"x":3.4},{"p":12,"x":3.9},{"p":12,"x":4.4},
{"p":13,"x":3.7},{"p":13,"x":4.2},{"p":13,"x":4.6},
{"p":14,"x":3.4},{"p":14,"x":3.9},{"p":14,"x":4.2},
{"p":15,"x":-3.8},{"p":15,"x":3.2},{"p":15,"x":3.7},
{"p":16,"x":3.3},{"p":16,"x":3.8},{"p":16,"x":4.4},
{"p":17,"x":-3.4},{"p":17,"x":3.0},{"p":17,"x":3.5},{"p":17,"x":3.8},
{"p":18,"x":3.2},{"p":18,"x":3.6},{"p":18,"x":3.9},
{"p":19,"x":-3.9},{"p":19,"x":3.2},{"p":19,"x":3.9},{"p":19,"x":4.6},
{"p":20,"x":-4.7},{"p":20,"x":2.9},{"p":20,"x":3.3},
{"p":21,"x":3.2},{"p":21,"x":3.7},{"p":21,"x":4.2},
{"p":22,"x":-3.8},{"p":22,"x":3.3},{"p":22,"x":3.6},
{"p":23,"x":3.0},{"p":23,"x":3.5},{"p":23,"x":4.2},
{"p":24,"x":3.6},{"p":24,"x":4.2},{"p":24,"x":4.8},
{"p":25,"x":-4.2},{"p":25,"x":3.2},{"p":25,"x":3.5},
{"p":26,"x":-3.8},{"p":26,"x":2.9},{"p":26,"x":3.5},{"p":26,"x":4.0},
{"p":27,"x":-4.2},{"p":27,"x":3.0},{"p":27,"x":3.6},{"p":27,"x":4.0},
{"p":28,"x":-4.9},{"p":28,"x":3.3},{"p":28,"x":3.8},{"p":28,"x":4.2},
{"p":29,"x":-4.8},{"p":29,"x":3.2},{"p":29,"x":3.7},
{"p":30,"x":3.5},{"p":30,"x":4.1},{"p":30,"x":4.7}
]
},
"concat":[
{"title":{"text":["R Sup","Frontal S"]},"layer":[{"data":{"name":"lines"},"transform":[{"filter":"datum.p==1"}],"mark":{"type":"line","strokeWidth":3,"clip":true},"encoding":{"x":{"field":"x","type":"quantitative","title":null,"scale":{"domain":[-3.9,4.5],"nice":false},"axis":{"values":[-2.5,0,2.5],"format":".1f"}},"y":{"field":"y","type":"quantitative","title":null,"scale":{"domain":[-0.36,0.36],"nice":false},"axis":{"values":[-0.2,0,0.2],"format":".1f"}},
"color":{"field":"a","type":"nominal","scale":{"domain":["OLS","Random Forest","Linear SVM","RBF SVM","Elastic Net","XGBoost","Polynomial SVM"],"range":["#1b9e77","#7570b3","#66a61e","#a6761d","#d95f02","#e7298a","#e6ab02"]},"legend":{"title":"algorithm","encode":{"symbols":{"update":{"fill":{"scale":"color","field":"value"},"strokeDash":{"value":[1,0]},"opacity":{"value":1}}}}}},
"strokeDash":{"field":"a","type":"nominal","scale":{"domain":["OLS","Random Forest","Linear SVM","RBF SVM","Elastic Net","XGBoost","Polynomial SVM"],"range":[[1,0],[12,6],[3,9],[21,9],[6,6],[12,12],[3,9,12,9]]},"legend":null}}},{"data":{"name":"rug"},"transform":[{"filter":"datum.p==1"}],"mark":{"type":"rule","strokeWidth":3,"yOffset":-1.5,"color":"black"},"encoding":{"x":{"field":"lo","type":"quantitative","title":null},"x2":{"field":"hi"},"y":{"value":"height"}}},{"data":{"name":"ticks"},"transform":[{"filter":"datum.p==1"}],"mark":{"type":"tick","orient":"vertical","size":3,"thickness":1,"yOffset":-1.5,"color":"black"},"encoding":{"x":{"field":"x","type":"quantitative","title":null},"y":{"value":"height"}}}]},
{"title":{"text":["R Intra/Transv","Parietal S"]},"layer":[{"data":{"name":"lines"},"transform":[{"filter":"datum.p==2"}],"mark":{"type":"line","strokeWidth":3,"clip":true},"encoding":{"x":{"field":"x","type":"quantitative","title":null,"scale":{"domain":[-4.6,4.7],"nice":false},"axis":{"values":[-2.5,0,2.5],"format":".1f"}},"y":{"field":"y","type":"quantitative","title":null,"scale":{"domain":[-0.62,0.63],"nice":false},"axis":{"values":[-0.6,-0.3,0,0.3,0.6],"format":".1f"}},"color":{"field":"a","type":"nominal"},"strokeDash":{"field":"a","type":"nominal","legend":null}}},{"data":{"name":"rug"},"transform":[{"filter":"datum.p==2"}],"mark":{"type":"rule","strokeWidth":3,"yOffset":-1.5,"color":"black"},"encoding":{"x":{"field":"lo","type":"quantitative","title":null},"x2":{"field":"hi"},"y":{"value":"height"}}},{"data":{"name":"ticks"},"transform":[{"filter":"datum.p==2"}],"mark":{"type":"tick","orient":"vertical","size":3,"thickness":1,"yOffset":-1.5,"color":"black"},"encoding":{"x":{"field":"x","type":"quantitative","title":null},"y":{"value":"height"}}}]},
{"title":{"text":["L Intra/Transv","Parietal S"]},"layer":[{"data":{"name":"lines"},"transform":[{"filter":"datum.p==3"}],"mark":{"type":"line","strokeWidth":3,"clip":true},"encoding":{"x":{"field":"x","type":"quantitative","title":null,"scale":{"domain":[-3.7,3.5],"nice":false},"axis":{"values":[-2,0,2],"format":"d"}},"y":{"field":"y","type":"quantitative","title":null,"scale":{"domain":[-0.2,0.21],"nice":false},"axis":{"values":[-0.1,0,0.1,0.2],"format":".1f"}},"color":{"field":"a","type":"nominal"},"strokeDash":{"field":"a","type":"nominal","legend":null}}},{"data":{"name":"rug"},"transform":[{"filter":"datum.p==3"}],"mark":{"type":"rule","strokeWidth":3,"yOffset":-1.5,"color":"black"},"encoding":{"x":{"field":"lo","type":"quantitative","title":null},"x2":{"field":"hi"},"y":{"value":"height"}}},{"data":{"name":"ticks"},"transform":[{"filter":"datum.p==3"}],"mark":{"type":"tick","orient":"vertical","size":3,"thickness":1,"yOffset":-1.5,"color":"black"},"encoding":{"x":{"field":"x","type":"quantitative","title":null},"y":{"value":"height"}}}]},
{"title":{"text":["R","Precuneus"]},"layer":[{"data":{"name":"lines"},"transform":[{"filter":"datum.p==4"}],"mark":{"type":"line","strokeWidth":3,"clip":true},"encoding":{"x":{"field":"x","type":"quantitative","title":null,"scale":{"domain":[-4.1,5.0],"nice":false},"axis":{"values":[-4,-2,0,2,4],"format":"d"}},"y":{"field":"y","type":"quantitative","title":null,"scale":{"domain":[-0.49,0.64],"nice":false},"axis":{"values":[-0.25,0,0.25,0.5],"format":".2f"}},"color":{"field":"a","type":"nominal"},"strokeDash":{"field":"a","type":"nominal","legend":null}}},{"data":{"name":"rug"},"transform":[{"filter":"datum.p==4"}],"mark":{"type":"rule","strokeWidth":3,"yOffset":-1.5,"color":"black"},"encoding":{"x":{"field":"lo","type":"quantitative","title":null},"x2":{"field":"hi"},"y":{"value":"height"}}},{"data":{"name":"ticks"},"transform":[{"filter":"datum.p==4"}],"mark":{"type":"tick","orient":"vertical","size":3,"thickness":1,"yOffset":-1.5,"color":"black"},"encoding":{"x":{"field":"x","type":"quantitative","title":null},"y":{"value":"height"}}}]},
{"title":{"text":["R Sulcus","Interm Primus"]},"layer":[{"data":{"name":"lines"},"transform":[{"filter":"datum.p==5"}],"mark":{"type":"line","strokeWidth":3,"clip":true},"encoding":{"x":{"field":"x","type":"quantitative","title":null,"scale":{"domain":[-5.3,3.8],"nice":false},"axis":{"values":[-5,-2.5,0,2.5],"format":".1f"}},"y":{"field":"y","type":"quantitative","title":null,"scale":{"domain":[-0.115,0.055],"nice":false},"axis":{"values":[-0.1,-0.05,0,0.05],"format":".2f"}},"color":{"field":"a","type":"nominal"},"strokeDash":{"field":"a","type":"nominal","legend":null}}},{"data":{"name":"rug"},"transform":[{"filter":"datum.p==5"}],"mark":{"type":"rule","strokeWidth":3,"yOffset":-1.5,"color":"black"},"encoding":{"x":{"field":"lo","type":"quantitative","title":null},"x2":{"field":"hi"},"y":{"value":"height"}}},{"data":{"name":"ticks"},"transform":[{"filter":"datum.p==5"}],"mark":{"type":"tick","orient":"vertical","size":3,"thickness":1,"yOffset":-1.5,"color":"black"},"encoding":{"x":{"field":"x","type":"quantitative","title":null},"y":{"value":"height"}}}]},
{"title":{"text":["R Middle","Frontal G"]},"layer":[{"data":{"name":"lines"},"transform":[{"filter":"datum.p==6"}],"mark":{"type":"line","strokeWidth":3,"clip":true},"encoding":{"x":{"field":"x","type":"quantitative","title":null,"scale":{"domain":[-4.4,5.1],"nice":false},"axis":{"values":[-2.5,0,2.5,5],"format":".1f"}},"y":{"field":"y","type":"quantitative","title":null,"scale":{"domain":[-0.38,0.44],"nice":false},"axis":{"values":[-0.2,0,0.2,0.4],"format":".1f"}},"color":{"field":"a","type":"nominal"},"strokeDash":{"field":"a","type":"nominal","legend":null}}},{"data":{"name":"rug"},"transform":[{"filter":"datum.p==6"}],"mark":{"type":"rule","strokeWidth":3,"yOffset":-1.5,"color":"black"},"encoding":{"x":{"field":"lo","type":"quantitative","title":null},"x2":{"field":"hi"},"y":{"value":"height"}}},{"data":{"name":"ticks"},"transform":[{"filter":"datum.p==6"}],"mark":{"type":"tick","orient":"vertical","size":3,"thickness":1,"yOffset":-1.5,"color":"black"},"encoding":{"x":{"field":"x","type":"quantitative","title":null},"y":{"value":"height"}}}]},
{"title":{"text":["L Sup Frontal S",""]},"layer":[{"data":{"name":"lines"},"transform":[{"filter":"datum.p==7"}],"mark":{"type":"line","strokeWidth":3,"clip":true},"encoding":{"x":{"field":"x","type":"quantitative","title":null,"scale":{"domain":[-5.6,3.9],"nice":false},"axis":{"values":[-5,-2.5,0,2.5],"format":".1f"}},"y":{"field":"y","type":"quantitative","title":null,"scale":{"domain":[-0.67,0.53],"nice":false},"axis":{"values":[-0.5,-0.25,0,0.25,0.5],"format":".2f"}},"color":{"field":"a","type":"nominal"},"strokeDash":{"field":"a","type":"nominal","legend":null}}},{"data":{"name":"rug"},"transform":[{"filter":"datum.p==7"}],"mark":{"type":"rule","strokeWidth":3,"yOffset":-1.5,"color":"black"},"encoding":{"x":{"field":"lo","type":"quantitative","title":null},"x2":{"field":"hi"},"y":{"value":"height"}}},{"data":{"name":"ticks"},"transform":[{"filter":"datum.p==7"}],"mark":{"type":"tick","orient":"vertical","size":3,"thickness":1,"yOffset":-1.5,"color":"black"},"encoding":{"x":{"field":"x","type":"quantitative","title":null},"y":{"value":"height"}}}]},
{"title":{"text":["L Middle","Frontal G"]},"layer":[{"data":{"name":"lines"},"transform":[{"filter":"datum.p==8"}],"mark":{"type":"line","strokeWidth":3,"clip":true},"encoding":{"x":{"field":"x","type":"quantitative","title":null,"scale":{"domain":[-4.3,4.3],"nice":false},"axis":{"values":[-2.5,0,2.5],"format":".1f"}},"y":{"field":"y","type":"quantitative","title":null,"scale":{"domain":[-0.09,0.073],"nice":false},"axis":{"values":[-0.05,0,0.05],"format":".2f"}},"color":{"field":"a","type":"nominal"},"strokeDash":{"field":"a","type":"nominal","legend":null}}},{"data":{"name":"rug"},"transform":[{"filter":"datum.p==8"}],"mark":{"type":"rule","strokeWidth":3,"yOffset":-1.5,"color":"black"},"encoding":{"x":{"field":"lo","type":"quantitative","title":null},"x2":{"field":"hi"},"y":{"value":"height"}}},{"data":{"name":"ticks"},"transform":[{"filter":"datum.p==8"}],"mark":{"type":"tick","orient":"vertical","size":3,"thickness":1,"yOffset":-1.5,"color":"black"},"encoding":{"x":{"field":"x","type":"quantitative","title":null},"y":{"value":"height"}}}]},
{"title":{"text":["L Inf","Percentral S"]},"layer":[{"data":{"name":"lines"},"transform":[{"filter":"datum.p==9"}],"mark":{"type":"line","strokeWidth":3,"clip":true},"encoding":{"x":{"field":"x","type":"quantitative","title":null,"scale":{"domain":[-4.3,4.8],"nice":false},"axis":{"values":[-2.5,0,2.5],"format":".1f"}},"y":{"field":"y","type":"quantitative","title":null,"scale":{"domain":[-0.16,0.17],"nice":false},"axis":{"values":[-0.1,0,0.1],"format":".1f"}},"color":{"field":"a","type":"nominal"},"strokeDash":{"field":"a","type":"nominal","legend":null}}},{"data":{"name":"rug"},"transform":[{"filter":"datum.p==9"}],"mark":{"type":"rule","strokeWidth":3,"yOffset":-1.5,"color":"black"},"encoding":{"x":{"field":"lo","type":"quantitative","title":null},"x2":{"field":"hi"},"y":{"value":"height"}}},{"data":{"name":"ticks"},"transform":[{"filter":"datum.p==9"}],"mark":{"type":"tick","orient":"vertical","size":3,"thickness":1,"yOffset":-1.5,"color":"black"},"encoding":{"x":{"field":"x","type":"quantitative","title":null},"y":{"value":"height"}}}]},
{"title":{"text":["L","Precuneus"]},"layer":[{"data":{"name":"lines"},"transform":[{"filter":"datum.p==10"}],"mark":{"type":"line","strokeWidth":3,"clip":true},"encoding":{"x":{"field":"x","type":"quantitative","title":null,"scale":{"domain":[-4.1,4.8],"nice":false},"axis":{"values":[-2.5,0,2.5],"format":".1f"}},"y":{"field":"y","type":"quantitative","title":null,"scale":{"domain":[-0.62,0.67],"nice":false},"axis":{"values":[-0.6,-0.3,0,0.3,0.6],"format":".1f"}},"color":{"field":"a","type":"nominal"},"strokeDash":{"field":"a","type":"nominal","legend":null}}},{"data":{"name":"rug"},"transform":[{"filter":"datum.p==10"}],"mark":{"type":"rule","strokeWidth":3,"yOffset":-1.5,"color":"black"},"encoding":{"x":{"field":"lo","type":"quantitative","title":null},"x2":{"field":"hi"},"y":{"value":"height"}}},{"data":{"name":"ticks"},"transform":[{"filter":"datum.p==10"}],"mark":{"type":"tick","orient":"vertical","size":3,"thickness":1,"yOffset":-1.5,"color":"black"},"encoding":{"x":{"field":"x","type":"quantitative","title":null},"y":{"value":"height"}}}]},
{"title":{"text":["R Mid","Frontal S"]},"layer":[{"data":{"name":"lines"},"transform":[{"filter":"datum.p==11"}],"mark":{"type":"line","strokeWidth":3,"clip":true},"encoding":{"x":{"field":"x","type":"quantitative","title":null,"scale":{"domain":[-3.9,5.5],"nice":false},"axis":{"values":[-2.5,0,2.5,5],"format":".1f"}},"y":{"field":"y","type":"quantitative","title":null,"scale":{"domain":[-0.145,0.12],"nice":false},"axis":{"values":[-0.1,-0.05,0,0.05,0.1],"format":".2f"}},"color":{"field":"a","type":"nominal"},"strokeDash":{"field":"a","type":"nominal","legend":null}}},{"data":{"name":"rug"},"transform":[{"filter":"datum.p==11"}],"mark":{"type":"rule","strokeWidth":3,"yOffset":-1.5,"color":"black"},"encoding":{"x":{"field":"lo","type":"quantitative","title":null},"x2":{"field":"hi"},"y":{"value":"height"}}},{"data":{"name":"ticks"},"transform":[{"filter":"datum.p==11"}],"mark":{"type":"tick","orient":"vertical","size":3,"thickness":1,"yOffset":-1.5,"color":"black"},"encoding":{"x":{"field":"x","type":"quantitative","title":null},"y":{"value":"height"}}}]},
{"title":{"text":["R Angular G",""]},"layer":[{"data":{"name":"lines"},"transform":[{"filter":"datum.p==12"}],"mark":{"type":"line","strokeWidth":3,"clip":true},"encoding":{"x":{"field":"x","type":"quantitative","title":null,"scale":{"domain":[-4.1,4.8],"nice":false},"axis":{"values":[-2.5,0,2.5],"format":".1f"}},"y":{"field":"y","type":"quantitative","title":null,"scale":{"domain":[-0.072,0.084],"nice":false},"axis":{"values":[-0.04,0,0.04],"format":".2f"}},"color":{"field":"a","type":"nominal"},"strokeDash":{"field":"a","type":"nominal","legend":null}}},{"data":{"name":"rug"},"transform":[{"filter":"datum.p==12"}],"mark":{"type":"rule","strokeWidth":3,"yOffset":-1.5,"color":"black"},"encoding":{"x":{"field":"lo","type":"quantitative","title":null},"x2":{"field":"hi"},"y":{"value":"height"}}},{"data":{"name":"ticks"},"transform":[{"filter":"datum.p==12"}],"mark":{"type":"tick","orient":"vertical","size":3,"thickness":1,"yOffset":-1.5,"color":"black"},"encoding":{"x":{"field":"x","type":"quantitative","title":null},"y":{"value":"height"}}}]},
{"title":{"text":["L Sulcus Interm","Primus"]},"layer":[{"data":{"name":"lines"},"transform":[{"filter":"datum.p==13"}],"mark":{"type":"line","strokeWidth":3,"clip":true},"encoding":{"x":{"field":"x","type":"quantitative","title":null,"scale":{"domain":[-3.9,5.1],"nice":false},"axis":{"values":[-2,0,2,4],"format":"d"}},"y":{"field":"y","type":"quantitative","title":null,"scale":{"domain":[-0.115,0.17],"nice":false},"axis":{"values":[-0.1,0,0.1],"format":".1f"}},"color":{"field":"a","type":"nominal"},"strokeDash":{"field":"a","type":"nominal","legend":null}}},{"data":{"name":"rug"},"transform":[{"filter":"datum.p==13"}],"mark":{"type":"rule","strokeWidth":3,"yOffset":-1.5,"color":"black"},"encoding":{"x":{"field":"lo","type":"quantitative","title":null},"x2":{"field":"hi"},"y":{"value":"height"}}},{"data":{"name":"ticks"},"transform":[{"filter":"datum.p==13"}],"mark":{"type":"tick","orient":"vertical","size":3,"thickness":1,"yOffset":-1.5,"color":"black"},"encoding":{"x":{"field":"x","type":"quantitative","title":null},"y":{"value":"height"}}}]},
{"title":{"text":["R AntMid","Cingulate"]},"layer":[{"data":{"name":"lines"},"transform":[{"filter":"datum.p==14"}],"mark":{"type":"line","strokeWidth":3,"clip":true},"encoding":{"x":{"field":"x","type":"quantitative","title":null,"scale":{"domain":[-4.4,4.6],"nice":false},"axis":{"values":[-2.5,0,2.5],"format":".1f"}},"y":{"field":"y","type":"quantitative","title":null,"scale":{"domain":[-0.31,0.285],"nice":false},"axis":{"values":[-0.3,-0.2,-0.1,0,0.1,0.2],"format":".1f"}},"color":{"field":"a","type":"nominal"},"strokeDash":{"field":"a","type":"nominal","legend":null}}},{"data":{"name":"rug"},"transform":[{"filter":"datum.p==14"}],"mark":{"type":"rule","strokeWidth":3,"yOffset":-1.5,"color":"black"},"encoding":{"x":{"field":"lo","type":"quantitative","title":null},"x2":{"field":"hi"},"y":{"value":"height"}}},{"data":{"name":"ticks"},"transform":[{"filter":"datum.p==14"}],"mark":{"type":"tick","orient":"vertical","size":3,"thickness":1,"yOffset":-1.5,"color":"black"},"encoding":{"x":{"field":"x","type":"quantitative","title":null},"y":{"value":"height"}}}]},
{"title":{"text":["L Sup","Percentral S"]},"layer":[{"data":{"name":"lines"},"transform":[{"filter":"datum.p==15"}],"mark":{"type":"line","strokeWidth":3,"clip":true},"encoding":{"x":{"field":"x","type":"quantitative","title":null,"scale":{"domain":[-4.2,4.1],"nice":false},"axis":{"values":[-4,-2,0,2,4],"format":"d"}},"y":{"field":"y","type":"quantitative","title":null,"scale":{"domain":[-0.2,0.21],"nice":false},"axis":{"values":[-0.2,-0.1,0,0.1,0.2],"format":".1f"}},"color":{"field":"a","type":"nominal"},"strokeDash":{"field":"a","type":"nominal","legend":null}}},{"data":{"name":"rug"},"transform":[{"filter":"datum.p==15"}],"mark":{"type":"rule","strokeWidth":3,"yOffset":-1.5,"color":"black"},"encoding":{"x":{"field":"lo","type":"quantitative","title":null},"x2":{"field":"hi"},"y":{"value":"height"}}},{"data":{"name":"ticks"},"transform":[{"filter":"datum.p==15"}],"mark":{"type":"tick","orient":"vertical","size":3,"thickness":1,"yOffset":-1.5,"color":"black"},"encoding":{"x":{"field":"x","type":"quantitative","title":null},"y":{"value":"height"}}}]},
{"title":{"text":["R Ant Circular S","Of Insula"]},"layer":[{"data":{"name":"lines"},"transform":[{"filter":"datum.p==16"}],"mark":{"type":"line","strokeWidth":3,"clip":true},"encoding":{"x":{"field":"x","type":"quantitative","title":null,"scale":{"domain":[-4.1,4.8],"nice":false},"axis":{"values":[-2.5,0,2.5],"format":".1f"}},"y":{"field":"y","type":"quantitative","title":null,"scale":{"domain":[-0.215,0.245],"nice":false},"axis":{"values":[-0.2,-0.1,0,0.1,0.2],"format":".1f"}},"color":{"field":"a","type":"nominal"},"strokeDash":{"field":"a","type":"nominal","legend":null}}},{"data":{"name":"rug"},"transform":[{"filter":"datum.p==16"}],"mark":{"type":"rule","strokeWidth":3,"yOffset":-1.5,"color":"black"},"encoding":{"x":{"field":"lo","type":"quantitative","title":null},"x2":{"field":"hi"},"y":{"value":"height"}}},{"data":{"name":"ticks"},"transform":[{"filter":"datum.p==16"}],"mark":{"type":"tick","orient":"vertical","size":3,"thickness":1,"yOffset":-1.5,"color":"black"},"encoding":{"x":{"field":"x","type":"quantitative","title":null},"y":{"value":"height"}}}]},
{"title":{"text":["R Sup","Percentral S"]},"layer":[{"data":{"name":"lines"},"transform":[{"filter":"datum.p==17"}],"mark":{"type":"line","strokeWidth":3,"clip":true},"encoding":{"x":{"field":"x","type":"quantitative","title":null,"scale":{"domain":[-3.9,4.1],"nice":false},"axis":{"values":[-2,0,2,4],"format":"d"}},"y":{"field":"y","type":"quantitative","title":null,"scale":{"domain":[-0.18,0.165],"nice":false},"axis":{"values":[-0.1,0,0.1],"format":".1f"}},"color":{"field":"a","type":"nominal"},"strokeDash":{"field":"a","type":"nominal","legend":null}}},{"data":{"name":"rug"},"transform":[{"filter":"datum.p==17"}],"mark":{"type":"rule","strokeWidth":3,"yOffset":-1.5,"color":"black"},"encoding":{"x":{"field":"lo","type":"quantitative","title":null},"x2":{"field":"hi"},"y":{"value":"height"}}},{"data":{"name":"ticks"},"transform":[{"filter":"datum.p==17"}],"mark":{"type":"tick","orient":"vertical","size":3,"thickness":1,"yOffset":-1.5,"color":"black"},"encoding":{"x":{"field":"x","type":"quantitative","title":null},"y":{"value":"height"}}}]},
{"title":{"text":["L Inf","Frontal S"]},"layer":[{"data":{"name":"lines"},"transform":[{"filter":"datum.p==18"}],"mark":{"type":"line","strokeWidth":3,"clip":true},"encoding":{"x":{"field":"x","type":"quantitative","title":null,"scale":{"domain":[-4.4,4.3],"nice":false},"axis":{"values":[-2.5,0,2.5],"format":".1f"}},"y":{"field":"y","type":"quantitative","title":null,"scale":{"domain":[-0.32,0.31],"nice":false},"axis":{"values":[-0.3,-0.2,-0.1,0,0.1,0.2,0.3],"format":".1f"}},"color":{"field":"a","type":"nominal"},"strokeDash":{"field":"a","type":"nominal","legend":null}}},{"data":{"name":"rug"},"transform":[{"filter":"datum.p==18"}],"mark":{"type":"rule","strokeWidth":3,"yOffset":-1.5,"color":"black"},"encoding":{"x":{"field":"lo","type":"quantitative","title":null},"x2":{"field":"hi"},"y":{"value":"height"}}},{"data":{"name":"ticks"},"transform":[{"filter":"datum.p==18"}],"mark":{"type":"tick","orient":"vertical","size":3,"thickness":1,"yOffset":-1.5,"color":"black"},"encoding":{"x":{"field":"x","type":"quantitative","title":null},"y":{"value":"height"}}}]},
{"title":{"text":["L Mid Frontal S",""]},"layer":[{"data":{"name":"lines"},"transform":[{"filter":"datum.p==19"}],"mark":{"type":"line","strokeWidth":3,"clip":true},"encoding":{"x":{"field":"x","type":"quantitative","title":null,"scale":{"domain":[-4.4,5.1],"nice":false},"axis":{"values":[-2.5,0,2.5,5],"format":".1f"}},"y":{"field":"y","type":"quantitative","title":null,"scale":{"domain":[-0.37,0.33],"nice":false},"axis":{"values":[-0.2,0,0.2],"format":".1f"}},"color":{"field":"a","type":"nominal"},"strokeDash":{"field":"a","type":"nominal","legend":null}}},{"data":{"name":"rug"},"transform":[{"filter":"datum.p==19"}],"mark":{"type":"rule","strokeWidth":3,"yOffset":-1.5,"color":"black"},"encoding":{"x":{"field":"lo","type":"quantitative","title":null},"x2":{"field":"hi"},"y":{"value":"height"}}},{"data":{"name":"ticks"},"transform":[{"filter":"datum.p==19"}],"mark":{"type":"tick","orient":"vertical","size":3,"thickness":1,"yOffset":-1.5,"color":"black"},"encoding":{"x":{"field":"x","type":"quantitative","title":null},"y":{"value":"height"}}}]},
{"title":{"text":["L Long/Central","Insular"]},"layer":[{"data":{"name":"lines"},"transform":[{"filter":"datum.p==20"}],"mark":{"type":"line","strokeWidth":3,"clip":true},"encoding":{"x":{"field":"x","type":"quantitative","title":null,"scale":{"domain":[-5.2,3.6],"nice":false},"axis":{"values":[-4,-2,0,2],"format":"d"}},"y":{"field":"y","type":"quantitative","title":null,"scale":{"domain":[-0.16,0.21],"nice":false},"axis":{"values":[-0.1,0,0.1,0.2],"format":".1f"}},"color":{"field":"a","type":"nominal"},"strokeDash":{"field":"a","type":"nominal","legend":null}}},{"data":{"name":"rug"},"transform":[{"filter":"datum.p==20"}],"mark":{"type":"rule","strokeWidth":3,"yOffset":-1.5,"color":"black"},"encoding":{"x":{"field":"lo","type":"quantitative","title":null},"x2":{"field":"hi"},"y":{"value":"height"}}},{"data":{"name":"ticks"},"transform":[{"filter":"datum.p==20"}],"mark":{"type":"tick","orient":"vertical","size":3,"thickness":1,"yOffset":-1.5,"color":"black"},"encoding":{"x":{"field":"x","type":"quantitative","title":null},"y":{"value":"height"}}}]},
{"title":{"text":["R Inf","Percentral S"]},"layer":[{"data":{"name":"lines"},"transform":[{"filter":"datum.p==21"}],"mark":{"type":"line","strokeWidth":3,"clip":true},"encoding":{"x":{"field":"x","type":"quantitative","title":null,"scale":{"domain":[-4.0,4.6],"nice":false},"axis":{"values":[-2.5,0,2.5],"format":".1f"}},"y":{"field":"y","type":"quantitative","title":null,"scale":{"domain":[-0.095,0.108],"nice":false},"axis":{"values":[-0.05,0,0.05,0.1],"format":".2f"}},"color":{"field":"a","type":"nominal"},"strokeDash":{"field":"a","type":"nominal","legend":null}}},{"data":{"name":"rug"},"transform":[{"filter":"datum.p==21"}],"mark":{"type":"rule","strokeWidth":3,"yOffset":-1.5,"color":"black"},"encoding":{"x":{"field":"lo","type":"quantitative","title":null},"x2":{"field":"hi"},"y":{"value":"height"}}},{"data":{"name":"ticks"},"transform":[{"filter":"datum.p==21"}],"mark":{"type":"tick","orient":"vertical","size":3,"thickness":1,"yOffset":-1.5,"color":"black"},"encoding":{"x":{"field":"x","type":"quantitative","title":null},"y":{"value":"height"}}}]},
{"title":{"text":["L Angular G",""]},"layer":[{"data":{"name":"lines"},"transform":[{"filter":"datum.p==22"}],"mark":{"type":"line","strokeWidth":3,"clip":true},"encoding":{"x":{"field":"x","type":"quantitative","title":null,"scale":{"domain":[-4.2,4.05],"nice":false},"axis":{"values":[-4,-2,0,2,4],"format":"d"}},"y":{"field":"y","type":"quantitative","title":null,"scale":{"domain":[-0.48,0.52],"nice":false},"axis":{"values":[-0.25,0,0.25,0.5],"format":".2f"}},"color":{"field":"a","type":"nominal"},"strokeDash":{"field":"a","type":"nominal","legend":null}}},{"data":{"name":"rug"},"transform":[{"filter":"datum.p==22"}],"mark":{"type":"rule","strokeWidth":3,"yOffset":-1.5,"color":"black"},"encoding":{"x":{"field":"lo","type":"quantitative","title":null},"x2":{"field":"hi"},"y":{"value":"height"}}},{"data":{"name":"ticks"},"transform":[{"filter":"datum.p==22"}],"mark":{"type":"tick","orient":"vertical","size":3,"thickness":1,"yOffset":-1.5,"color":"black"},"encoding":{"x":{"field":"x","type":"quantitative","title":null},"y":{"value":"height"}}}]},
{"title":{"text":["R Subcentral",""]},"layer":[{"data":{"name":"lines"},"transform":[{"filter":"datum.p==23"}],"mark":{"type":"line","strokeWidth":3,"clip":true},"encoding":{"x":{"field":"x","type":"quantitative","title":null,"scale":{"domain":[-4.3,4.7],"nice":false},"axis":{"values":[-2.5,0,2.5],"format":".1f"}},"y":{"field":"y","type":"quantitative","title":null,"scale":{"domain":[-0.17,0.165],"nice":false},"axis":{"values":[-0.1,0,0.1],"format":".1f"}},"color":{"field":"a","type":"nominal"},"strokeDash":{"field":"a","type":"nominal","legend":null}}},{"data":{"name":"rug"},"transform":[{"filter":"datum.p==23"}],"mark":{"type":"rule","strokeWidth":3,"yOffset":-1.5,"color":"black"},"encoding":{"x":{"field":"lo","type":"quantitative","title":null},"x2":{"field":"hi"},"y":{"value":"height"}}},{"data":{"name":"ticks"},"transform":[{"filter":"datum.p==23"}],"mark":{"type":"tick","orient":"vertical","size":3,"thickness":1,"yOffset":-1.5,"color":"black"},"encoding":{"x":{"field":"x","type":"quantitative","title":null},"y":{"value":"height"}}}]},
{"title":{"text":["LSuperior","Parietal G"]},"layer":[{"data":{"name":"lines"},"transform":[{"filter":"datum.p==24"}],"mark":{"type":"line","strokeWidth":3,"clip":true},"encoding":{"x":{"field":"x","type":"quantitative","title":null,"scale":{"domain":[-4.1,5.2],"nice":false},"axis":{"values":[-2.5,0,2.5,5],"format":".1f"}},"y":{"field":"y","type":"quantitative","title":null,"scale":{"domain":[-0.51,0.64],"nice":false},"axis":{"values":[-0.3,0,0.3,0.6],"format":".1f"}},"color":{"field":"a","type":"nominal"},"strokeDash":{"field":"a","type":"nominal","legend":null}}},{"data":{"name":"rug"},"transform":[{"filter":"datum.p==24"}],"mark":{"type":"rule","strokeWidth":3,"yOffset":-1.5,"color":"black"},"encoding":{"x":{"field":"lo","type":"quantitative","title":null},"x2":{"field":"hi"},"y":{"value":"height"}}},{"data":{"name":"ticks"},"transform":[{"filter":"datum.p==24"}],"mark":{"type":"tick","orient":"vertical","size":3,"thickness":1,"yOffset":-1.5,"color":"black"},"encoding":{"x":{"field":"x","type":"quantitative","title":null},"y":{"value":"height"}}}]},
{"title":{"text":["L Subcentral",""]},"layer":[{"data":{"name":"lines"},"transform":[{"filter":"datum.p==25"}],"mark":{"type":"line","strokeWidth":3,"clip":true},"encoding":{"x":{"field":"x","type":"quantitative","title":null,"scale":{"domain":[-4.7,3.9],"nice":false},"axis":{"values":[-2.5,0,2.5],"format":".1f"}},"y":{"field":"y","type":"quantitative","title":null,"scale":{"domain":[-0.092,0.118],"nice":false},"axis":{"values":[-0.05,0,0.05,0.1],"format":".2f"}},"color":{"field":"a","type":"nominal"},"strokeDash":{"field":"a","type":"nominal","legend":null}}},{"data":{"name":"rug"},"transform":[{"filter":"datum.p==25"}],"mark":{"type":"rule","strokeWidth":3,"yOffset":-1.5,"color":"black"},"encoding":{"x":{"field":"lo","type":"quantitative","title":null},"x2":{"field":"hi"},"y":{"value":"height"}}},{"data":{"name":"ticks"},"transform":[{"filter":"datum.p==25"}],"mark":{"type":"tick","orient":"vertical","size":3,"thickness":1,"yOffset":-1.5,"color":"black"},"encoding":{"x":{"field":"x","type":"quantitative","title":null},"y":{"value":"height"}}}]},
{"title":{"text":["L Central S",""]},"layer":[{"data":{"name":"lines"},"transform":[{"filter":"datum.p==26"}],"mark":{"type":"line","strokeWidth":3,"clip":true},"encoding":{"x":{"field":"x","type":"quantitative","title":null,"scale":{"domain":[-4.2,4.4],"nice":false},"axis":{"values":[-2.5,0,2.5],"format":".1f"}},"y":{"field":"y","type":"quantitative","title":null,"scale":{"domain":[-0.42,0.41],"nice":false},"axis":{"values":[-0.4,-0.2,0,0.2,0.4],"format":".1f"}},"color":{"field":"a","type":"nominal"},"strokeDash":{"field":"a","type":"nominal","legend":null}}},{"data":{"name":"rug"},"transform":[{"filter":"datum.p==26"}],"mark":{"type":"rule","strokeWidth":3,"yOffset":-1.5,"color":"black"},"encoding":{"x":{"field":"lo","type":"quantitative","title":null},"x2":{"field":"hi"},"y":{"value":"height"}}},{"data":{"name":"ticks"},"transform":[{"filter":"datum.p==26"}],"mark":{"type":"tick","orient":"vertical","size":3,"thickness":1,"yOffset":-1.5,"color":"black"},"encoding":{"x":{"field":"x","type":"quantitative","title":null},"y":{"value":"height"}}}]},
{"title":{"text":["R Long/Central","Insular"]},"layer":[{"data":{"name":"lines"},"transform":[{"filter":"datum.p==27"}],"mark":{"type":"line","strokeWidth":3,"clip":true},"encoding":{"x":{"field":"x","type":"quantitative","title":null,"scale":{"domain":[-4.6,4.4],"nice":false},"axis":{"values":[-2.5,0,2.5],"format":".1f"}},"y":{"field":"y","type":"quantitative","title":null,"scale":{"domain":[-0.165,0.17],"nice":false},"axis":{"values":[-0.1,0,0.1],"format":".1f"}},"color":{"field":"a","type":"nominal"},"strokeDash":{"field":"a","type":"nominal","legend":null}}},{"data":{"name":"rug"},"transform":[{"filter":"datum.p==27"}],"mark":{"type":"rule","strokeWidth":3,"yOffset":-1.5,"color":"black"},"encoding":{"x":{"field":"lo","type":"quantitative","title":null},"x2":{"field":"hi"},"y":{"value":"height"}}},{"data":{"name":"ticks"},"transform":[{"filter":"datum.p==27"}],"mark":{"type":"tick","orient":"vertical","size":3,"thickness":1,"yOffset":-1.5,"color":"black"},"encoding":{"x":{"field":"x","type":"quantitative","title":null},"y":{"value":"height"}}}]},
{"title":{"text":["L Suborbital S",""]},"layer":[{"data":{"name":"lines"},"transform":[{"filter":"datum.p==28"}],"mark":{"type":"line","strokeWidth":3,"clip":true},"encoding":{"x":{"field":"x","type":"quantitative","title":null,"scale":{"domain":[-5.4,4.6],"nice":false},"axis":{"values":[-5,-2.5,0,2.5],"format":".1f"}},"y":{"field":"y","type":"quantitative","title":null,"scale":{"domain":[-0.105,0.105],"nice":false},"axis":{"values":[-0.1,-0.05,0,0.05,0.1],"format":".2f"}},"color":{"field":"a","type":"nominal"},"strokeDash":{"field":"a","type":"nominal","legend":null}}},{"data":{"name":"rug"},"transform":[{"filter":"datum.p==28"}],"mark":{"type":"rule","strokeWidth":3,"yOffset":-1.5,"color":"black"},"encoding":{"x":{"field":"lo","type":"quantitative","title":null},"x2":{"field":"hi"},"y":{"value":"height"}}},{"data":{"name":"ticks"},"transform":[{"filter":"datum.p==28"}],"mark":{"type":"tick","orient":"vertical","size":3,"thickness":1,"yOffset":-1.5,"color":"black"},"encoding":{"x":{"field":"x","type":"quantitative","title":null},"y":{"value":"height"}}}]},
{"title":{"text":["R Post Ramus","Of Lat S"]},"layer":[{"data":{"name":"lines"},"transform":[{"filter":"datum.p==29"}],"mark":{"type":"line","strokeWidth":3,"clip":true},"encoding":{"x":{"field":"x","type":"quantitative","title":null,"scale":{"domain":[-5.3,4.1],"nice":false},"axis":{"values":[-5,-2.5,0,2.5],"format":".1f"}},"y":{"field":"y","type":"quantitative","title":null,"scale":{"domain":[-0.125,0.11],"nice":false},"axis":{"values":[-0.1,-0.05,0,0.05,0.1],"format":".2f"}},"color":{"field":"a","type":"nominal"},"strokeDash":{"field":"a","type":"nominal","legend":null}}},{"data":{"name":"rug"},"transform":[{"filter":"datum.p==29"}],"mark":{"type":"rule","strokeWidth":3,"yOffset":-1.5,"color":"black"},"encoding":{"x":{"field":"lo","type":"quantitative","title":null},"x2":{"field":"hi"},"y":{"value":"height"}}},{"data":{"name":"ticks"},"transform":[{"filter":"datum.p==29"}],"mark":{"type":"tick","orient":"vertical","size":3,"thickness":1,"yOffset":-1.5,"color":"black"},"encoding":{"x":{"field":"x","type":"quantitative","title":null},"y":{"value":"height"}}}]},
{"title":{"text":["R Superior","Parietal G"]},"layer":[{"data":{"name":"lines"},"transform":[{"filter":"datum.p==30"}],"mark":{"type":"line","strokeWidth":3,"clip":true},"encoding":{"x":{"field":"x","type":"quantitative","title":null,"scale":{"domain":[-4.4,5.1],"nice":false},"axis":{"values":[-2.5,0,2.5,5],"format":".1f"}},"y":{"field":"y","type":"quantitative","title":null,"scale":{"domain":[-0.122,0.104],"nice":false},"axis":{"values":[-0.1,-0.05,0,0.05,0.1],"format":".2f"}},"color":{"field":"a","type":"nominal"},"strokeDash":{"field":"a","type":"nominal","legend":null}}},{"data":{"name":"rug"},"transform":[{"filter":"datum.p==30"}],"mark":{"type":"rule","strokeWidth":3,"yOffset":-1.5,"color":"black"},"encoding":{"x":{"field":"lo","type":"quantitative","title":null},"x2":{"field":"hi"},"y":{"value":"height"}}},{"data":{"name":"ticks"},"transform":[{"filter":"datum.p==30"}],"mark":{"type":"tick","orient":"vertical","size":3,"thickness":1,"yOffset":-1.5,"color":"black"},"encoding":{"x":{"field":"x","type":"quantitative","title":null},"y":{"value":"height"}}}]}
],
"config":{
"font":"Liberation Sans",
"locale":{"number":{"decimal":".","thousands":",","grouping":[3],"currency":["$",""],"minus":"-"}},
"view":{"continuousWidth":115,"continuousHeight":60,"stroke":"#b3b3b3","strokeWidth":1},
"axis":{"grid":false,"domain":false,"ticks":true,"tickColor":"#4d4d4d","tickSize":3.5,"tickCount":20,"labelFont":"Liberation Sans","labelFontSize":11.5,"labelColor":"#4d4d4d","labelPadding":2,"labelFlush":false,"labelOverlap":false},
"axisX":{"tickCount":20},
"axisY":{"tickCount":20},
"title":{"font":"Liberation Sans","fontSize":15,"fontWeight":"normal","anchor":"start","frame":"group","lineHeight":17,"offset":4,"color":"black"},
"legend":{"orient":"none","legendX":-21,"legendY":709,"direction":"horizontal","columns":4,"titleOrient":"left","titleFont":"Liberation Sans","titleFontSize":20,"titleFontWeight":"normal","titleColor":"black","labelFont":"Liberation Sans","labelFontSize":20,"labelColor":"black","symbolType":"square","symbolSize":420,"symbolStrokeWidth":0,"symbolOpacity":1,"labelLimit":300,"labelOffset":12,"columnPadding":10,"rowPadding":3,"titlePadding":12}
}
}
